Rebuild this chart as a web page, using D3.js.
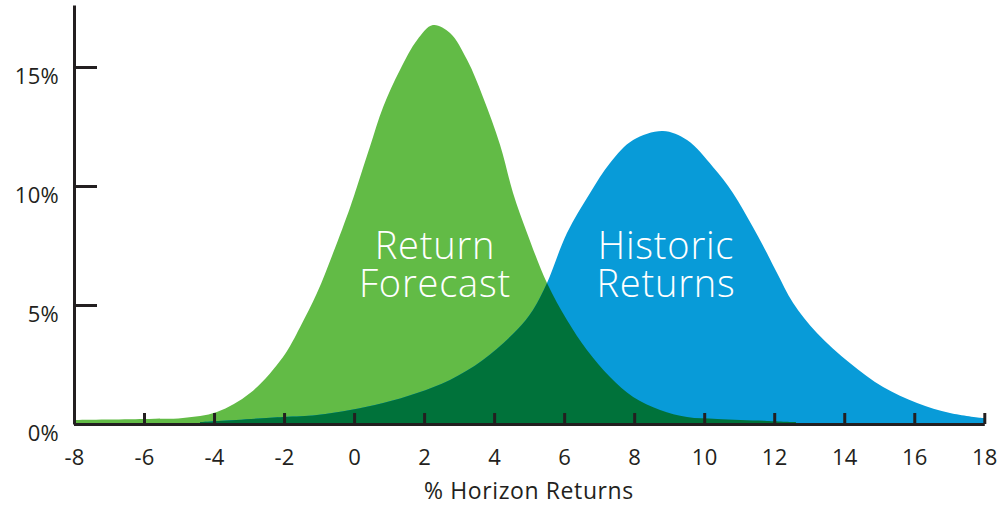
<!DOCTYPE html>
<html>
<head>
<meta charset="utf-8">
<script src="https://cdn.jsdelivr.net/npm/d3@7"></script>
<style>
  html, body { margin: 0; padding: 0; background: #ffffff; }
  svg { display: block; }
  .tick text { font-family: "Open Sans", "Lato", sans-serif; font-size: 22px; fill: #231f20; letter-spacing: 0.3px; }
</style>
</head>
<body>
<svg id="chart" width="1000" height="506"></svg>
<script>
// Return Forecast distribution: [% horizon return, probability %]
const forecastX = [-8, -6, -4.89, -3.92, -2.97, -2.03, -1.54, -1.06, -0.6, -0.11, 0.08, 0.45, 0.83, 1.31, 1.8, 2.25, 2.74, 3.23, 3.68, 4.17, 4.54, 4.94, 5.51, 6.08, 6.65, 7.31, 7.97, 8.74, 9.51, 10.37, 11.79, 12.62];
const forecastY = [0.17, 0.21, 0.25, 0.5, 1.3, 2.82, 4.08, 5.5, 7.18, 9.12, 9.96, 11.64, 13.32, 14.87, 16.13, 16.76, 16.43, 15.29, 13.74, 11.72, 9.71, 8.03, 5.92, 4.37, 3.11, 1.97, 1.13, 0.59, 0.29, 0.21, 0.13, 0.08];

// Historic Returns distribution
const historicX = [-4.4, -2.03, -1.06, -0.11, 0.83, 1.8, 2.74, 3.68, 4.65, 5.11, 5.51, 6.08, 6.74, 7.31, 7.97, 8.82, 9.51, 10.25, 10.82, 11.39, 11.79, 12.08, 12.54, 13.22, 14.16, 15.11, 16.08, 17.02, 17.96, 18];
const historicY = [0.08, 0.29, 0.38, 0.59, 0.88, 1.3, 1.85, 2.69, 3.95, 4.79, 5.92, 8.03, 9.71, 10.97, 11.93, 12.31, 11.93, 10.8, 9.71, 8.28, 7.18, 6.34, 5.08, 3.82, 2.56, 1.55, 0.88, 0.46, 0.25, 0.25];

const xTicks = [-8, -6, -4, -2, 0, 2, 4, 6, 8, 10, 12, 14, 16, 18];
const yTicks = [0, 5, 10, 15];

const forecastLabel = ["Return", "Forecast"];
const historicLabel = ["Historic", "Returns"];
const axisTitle = "% Horizon Returns";

const forecast = forecastX.map((x, i) => ({ x, y: forecastY[i] }));
const historic = historicX.map((x, i) => ({ x, y: historicY[i] }));

const svg = d3.select("#chart");
const ink = "#231f20";

const x = d3.scaleLinear().domain([-8, 18]).range([74, 984.3]);
const y = d3.scaleLinear().domain([0, 15]).range([424, 67]);
const yTop = y.invert(5);

const area = d3.area()
  .x(d => x(d.x))
  .y0(y(0))
  .y1(d => Math.min(y(0), y(d.y)))
  .curve(d3.curveCatmullRom.alpha(0.5));

// Overlap region is the historic area clipped to the forecast area
svg.append("defs").append("clipPath").attr("id", "forecast-clip")
  .append("path").attr("d", area(forecast));

svg.append("path").attr("d", area(forecast)).attr("fill", "#62bb46");
svg.append("path").attr("d", area(historic)).attr("fill", "#089bd8");
svg.append("path").attr("d", area(historic)).attr("fill", "#00723a")
  .attr("clip-path", "url(#forecast-clip)");

// Axes
const xAxis = d3.axisBottom(x).tickValues(xTicks).tickSizeInner(-11).tickSizeOuter(0).tickPadding(25)
  .tickFormat(d3.format("d"));
const gx = svg.append("g").attr("transform", `translate(0,${y(0)})`).call(xAxis);
gx.selectAll("text").attr("dy", "0.72em").text(d => d < 0 ? "-" + Math.abs(d) : d);

const yScaleAxis = d3.scaleLinear().domain([0, yTop]).range([424, 5]);
const yAxis = d3.axisLeft(yScaleAxis).tickValues(yTicks).tickSizeInner(-23).tickSizeOuter(0).tickPadding(15)
  .tickFormat(d => d + "%");
const gy = svg.append("g").attr("transform", `translate(${x(-8)},0)`).call(yAxis);
gy.selectAll("text").attr("dy", "0.76em");

svg.selectAll(".domain, .tick line").attr("stroke", ink).attr("stroke-width", 3);
gx.raise();

// Axis title
svg.append("text")
  .attr("x", 529).attr("y", 499)
  .attr("text-anchor", "middle")
  .attr("font-family", "'Open Sans', 'Lato', sans-serif")
  .attr("font-size", 23)
  .attr("letter-spacing", 0.6)
  .attr("fill", ink)
  .text(axisTitle);

// Series labels inside the curves
function label(lines, cx) {
  const t = svg.append("text")
    .attr("text-anchor", "middle")
    .attr("font-family", "'Open Sans', 'Lato', sans-serif")
    .attr("font-weight", 300)
    .attr("font-size", 38)
    .attr("letter-spacing", 0.8)
    .attr("fill", "#ffffff");
  lines.forEach((s, i) => {
    t.append("tspan").attr("x", cx).attr("y", 259 + i * 38).text(s);
  });
}
label(forecastLabel, 435);
label(historicLabel, 666);
</script>
</body>
</html>
